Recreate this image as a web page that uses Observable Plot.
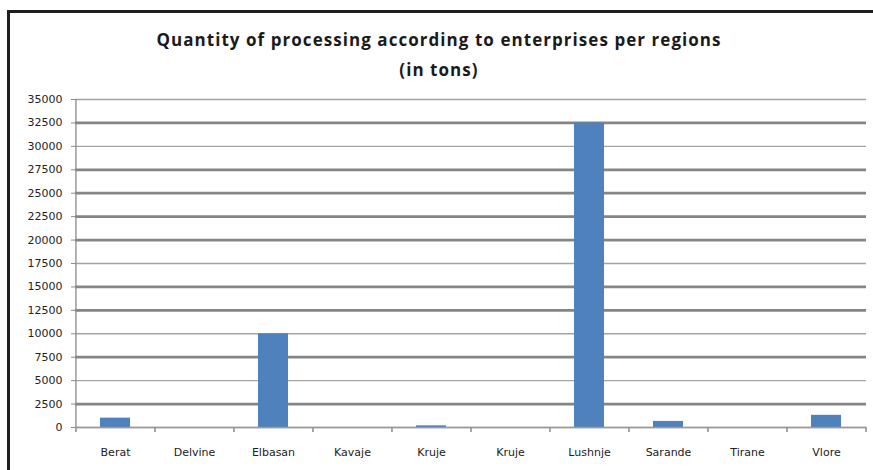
<!DOCTYPE html>
<html>
<head>
<meta charset="utf-8">
<script src="https://cdn.jsdelivr.net/npm/d3@7"></script>
<script src="https://cdn.jsdelivr.net/npm/@observablehq/plot@0.6"></script>
<style>
  html, body { margin: 0; padding: 0; background: #fff; }
  #chart { position: relative; width: 873px; height: 470px; overflow: hidden; }
  #border { position: absolute; left: 7px; top: 10px; right: -10px; bottom: -10px;
            border-top: 3px solid #1e1e1e; border-left: 3px solid #1e1e1e; }
  #title { position: absolute; left: 0; width: 878px; top: 25px; text-align: center;
           font-family: "Open Sans", sans-serif; font-weight: bold; font-size: 17px;
           letter-spacing: 1.05px; line-height: 30px; color: #1a1a1a; }
  #chart svg { position: absolute; left: 0; top: 0; }
  #chart svg text { font-family: "DejaVu Sans", sans-serif; }
</style>
</head>
<body>
<div id="chart">
  <div id="border"></div>
  <div id="title">Quantity of processing according to enterprises per regions<br>(in tons)</div>
</div>
<script>
// Regions (Kruje appears twice in the source table)
const regions = ["Berat", "Delvine", "Elbasan", "Kavaje", "Kruje", "Kruje", "Lushnje", "Sarande", "Tirane", "Vlore"];
// Processed quantity per region, tons
const tons = [1000, 0, 10000, 0, 180, 0, 32500, 650, 0, 1300];
// Y axis tick values
const yTicks = [0, 2500, 5000, 7500, 10000, 12500, 15000, 17500, 20000, 22500, 25000, 27500, 30000, 32500, 35000];

const data = regions.map((r, i) => ({i, region: r, tons: tons[i]}));

const W = 873, H = 470;
const mL = 75, mR = 7, mT = 99, mB = 43;
const padIn = 0.62, padOut = 0.31;
const step = (W - mL - mR) / (regions.length - padIn + 2 * padOut);

// gridlines drawn heavier
const heavy = new Set([2500, 7500, 12500, 15000, 20000, 22500, 25000, 27500, 32500]);

const plot = Plot.plot({
  width: W,
  height: H,
  marginLeft: mL,
  marginRight: mR,
  marginTop: mT,
  marginBottom: mB,
  style: {fontSize: "11px", color: "#222", background: "transparent"},
  x: {type: "band", domain: d3.range(regions.length), paddingInner: padIn, paddingOuter: padOut},
  y: {domain: [0, 35000]},
  marks: [
    Plot.ruleY(yTicks.filter(v => !heavy.has(v)), {stroke: "#a3a3a3", strokeWidth: 1.4}),
    Plot.ruleY(yTicks.filter(v => heavy.has(v)), {stroke: "#858585", strokeWidth: 2.8}),
    Plot.axisY({ticks: yTicks, tickSize: 4, tickPadding: 9, tickFormat: d => String(d),
                label: null, stroke: "#8a8a8a", fill: "#222", fontSize: 11}),
    // vertical axis line
    Plot.ruleX([0], {x: d => d, y1: 0, y2: 35000, dx: -step / 2, stroke: "#8a8a8a", strokeWidth: 1.3}),
    // category boundary ticks
    Plot.ruleX(d3.range(regions.length), {x: d => d, y1: 0, y2: 0, insetBottom: -5, dx: -step / 2,
               stroke: "#8a8a8a", strokeWidth: 1.5}),
    Plot.ruleX([regions.length - 1], {x: d => d, y1: 0, y2: 0, insetBottom: -5, dx: step / 2,
               stroke: "#8a8a8a", strokeWidth: 1.5}),
    Plot.barY(data, {x: "i", y: "tons", fill: "#4f81bd"}),
    Plot.ruleY([0], {stroke: "#9a9a9a", strokeWidth: 1.3}),
    Plot.axisX({tickSize: 0, tickPadding: 21, tickFormat: i => regions[i], label: null,
                fill: "#222", fontSize: 11})
  ]
});

document.getElementById("chart").appendChild(plot);
</script>
</body>
</html>
